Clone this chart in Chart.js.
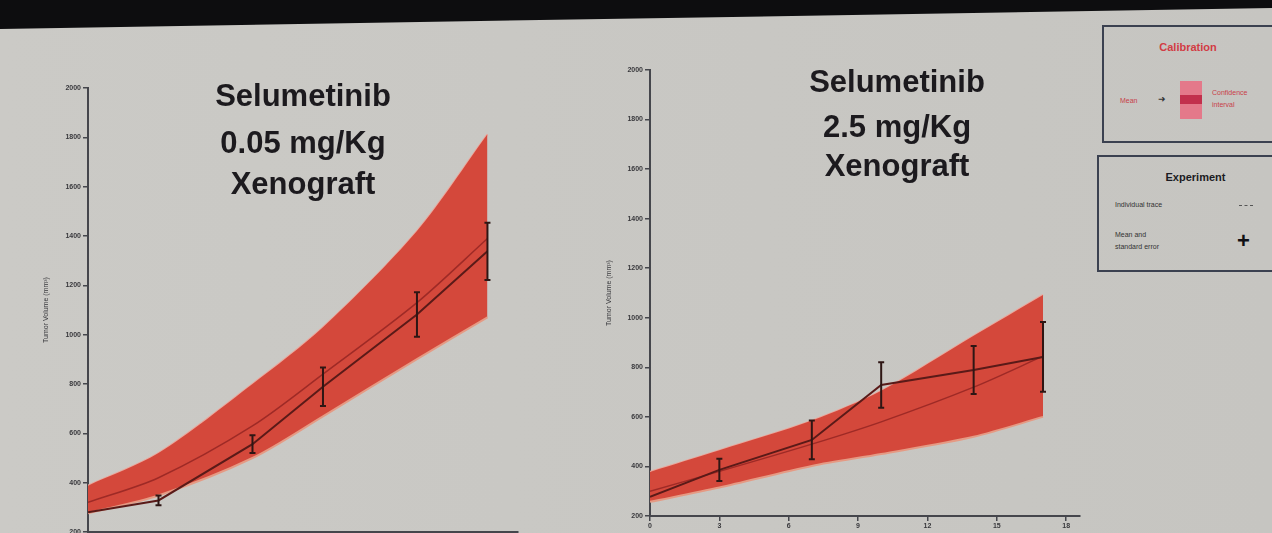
<!DOCTYPE html>
<html>
<head>
<meta charset="utf-8">
<script src="https://cdn.jsdelivr.net/npm/chart.js@4.4.1/dist/chart.umd.min.js"></script>
<style>
  html, body { margin: 0; padding: 0; }
  body { width: 1272px; height: 533px; overflow: hidden; position: relative;
         background: linear-gradient(90deg, #cbcac6 0%, #c8c7c3 60%, #c6c5c1 100%);
         font-family: "Liberation Sans", Arial, sans-serif; }
  .topband { position: absolute; left: 0; top: 0; width: 1272px; height: 32px; background: #0d0d0f;
             clip-path: polygon(0 0, 100% 0, 100% 8px, 0 29px); }
  .chartbox { position: absolute; }
  .title { position: absolute; text-align: center; font-weight: bold; font-size: 31px; color: #1c1a1e;
           line-height: 1; width: 300px; }
  .title div { position: absolute; left: 0; width: 100%; }
  .legend { position: absolute; border: 2.5px solid #3b4150; box-sizing: border-box; }
  .legend .head { position: absolute; width: 100%; text-align: center; font-weight: bold; font-size: 11px; }
  .tiny { position: absolute; font-size: 7px; white-space: nowrap; }
</style>
</head>
<body>
<div class="topband"></div>

<div class="chartbox" style="left:30px; top:70px; width:500px; height:495px;"><canvas id="lowDoseChart"></canvas></div>
<div class="chartbox" style="left:590px; top:50px; width:500px; height:500px;"><canvas id="highDoseChart"></canvas></div>

<div class="title" style="left:153px; top:80px;">
  <div style="top:0;">Selumetinib</div>
  <div style="top:47px;">0.05 mg/Kg</div>
  <div style="top:88px;">Xenograft</div>
</div>
<div class="title" style="left:747px; top:66px;">
  <div style="top:0;">Selumetinib</div>
  <div style="top:45px;">2.5 mg/Kg</div>
  <div style="top:84px;">Xenograft</div>
</div>

<div class="legend" style="left:1102px; top:25px; width:180px; height:118px;">
  <div class="head" style="top:14px; left:-4px; color:#d23c44;">Calibration</div>
  <div class="tiny" style="left:16px; top:70px; color:#c8404a;">Mean</div>
  <div class="tiny" style="left:54px; top:67px; color:#333; font-size:9px;">&#10140;</div>
  <div style="position:absolute; left:76px; top:54px; width:22px; height:38px; background:#e4798a;"></div>
  <div style="position:absolute; left:76px; top:68px; width:22px; height:9px; background:#c2304c;"></div>
  <div class="tiny" style="left:108px; top:62px; color:#c8404a;">Confidence</div>
  <div class="tiny" style="left:108px; top:74px; color:#c8404a;">interval</div>
</div>
<div class="legend" style="left:1097px; top:155px; width:185px; height:117px;">
  <div class="head" style="top:14px; left:6px; color:#1b1b22;">Experiment</div>
  <div class="tiny" style="left:16px; top:44px; color:#333;">Individual trace</div>
  <div style="position:absolute; left:140px; top:48px; width:14px; border-top:1px dashed #555;"></div>
  <div class="tiny" style="left:16px; top:74px; color:#333;">Mean and</div>
  <div class="tiny" style="left:16px; top:86px; color:#333;">standard error</div>
  <div style="position:absolute; left:138px; top:73px; font-size:22px; font-weight:bold; color:#101014; line-height:1;">+</div>
</div>

<script>
// measurement days and axis ticks
const days = [0, 3, 7, 10, 14, 17];
const xTicks = [0, 3, 6, 9, 12, 15, 18];
const yTicks = [200, 400, 600, 800, 1000, 1200, 1400, 1600, 1800, 2000];

// 0.05 mg/Kg
const lowMean = [280, 328, 556, 789, 1082, 1338];
const lowErr = [0, 20, 36, 78, 90, 116];
const lowUpper = [388, 520, 800, 1030, 1420, 1812];
const lowLower = [276, 348, 500, 669, 901, 1070];
const lowCalib = [320, 420, 630, 840, 1130, 1390];

// 2.5 mg/Kg
const highMean = [277, 386, 507, 729, 789, 842];
const highErr = [0, 45, 78, 92, 97, 141];
const highUpper = [378, 465, 585, 705, 927, 1092];
const highLower = [257, 315, 402, 450, 520, 600];
const highCalib = [300, 380, 490, 580, 720, 845];

const toPoints = arr => days.map((d, i) => ({ x: d, y: arr[i] }));

// vertical error bars for datasets that carry an `errors` array
const errorBars = {
  id: 'errorBars',
  afterDatasetsDraw(chart) {
    const { ctx, scales: { y } } = chart;
    ctx.save();
    ctx.strokeStyle = '#2e1614';
    ctx.lineWidth = 2;
    chart.data.datasets.forEach((ds, i) => {
      if (!ds.errors) return;
      chart.getDatasetMeta(i).data.forEach((pt, j) => {
        const e = ds.errors[j];
        if (!e) return;
        const top = y.getPixelForValue(ds.data[j].y + e);
        const bot = y.getPixelForValue(ds.data[j].y - e);
        ctx.beginPath();
        ctx.moveTo(pt.x, top); ctx.lineTo(pt.x, bot);
        ctx.moveTo(pt.x - 3, top); ctx.lineTo(pt.x + 3, top);
        ctx.moveTo(pt.x - 3, bot); ctx.lineTo(pt.x + 3, bot);
        ctx.stroke();
      });
    });
    ctx.restore();
  }
};

function buildChart(canvasId, upper, lower, calib, mean, err, opts) {
  const ctx = document.getElementById(canvasId).getContext('2d');
  return new Chart(ctx, {
    type: 'line',
    data: {
      datasets: [
        { data: toPoints(upper), order: 3, borderColor: '#eaa79c', borderWidth: 2, pointRadius: 0, tension: 0.3, fill: false },
        { data: toPoints(lower), order: 2, borderColor: '#e59a84', borderWidth: 2, pointRadius: 0, tension: 0.3,
          fill: '-1', backgroundColor: '#d4483b' },
        { data: toPoints(calib), order: 1, borderColor: '#9e2a26', borderWidth: 1.5, pointRadius: 0, tension: 0.3, fill: false },
        { data: toPoints(mean), order: 0, errors: err, borderColor: '#5a1a18', borderWidth: 2, pointRadius: 0, tension: 0, fill: false }
      ]
    },
    options: {
      responsive: true,
      maintainAspectRatio: false,
      animation: false,
      layout: { padding: opts.padding },
      plugins: { legend: { display: false }, tooltip: { enabled: false } },
      scales: {
        x: {
          type: 'linear',
          min: 0,
          max: opts.xMax,
          afterBuildTicks: s => { s.ticks = xTicks.map(v => ({ value: v })); },
          afterFit: s => { s.height = opts.xHeight; },
          border: { color: '#45464c', width: 2 },
          grid: { drawOnChartArea: false, color: '#45464c', tickLength: 5, lineWidth: 1.5 },
          ticks: { color: '#38383c', font: { size: 7, weight: 'bold' }, padding: 1, maxRotation: 0,
                   callback: v => String(v) },
          title: { display: true, text: 'Time (Days)', color: '#38383c', font: { size: 8, weight: 'bold' }, padding: { top: 1, bottom: 0 } }
        },
        y: {
          min: 200,
          max: 2000,
          afterBuildTicks: s => { s.ticks = yTicks.map(v => ({ value: v })); },
          afterFit: s => { s.width = opts.yWidth; },
          border: { color: '#45464c', width: 2 },
          grid: { drawOnChartArea: false, color: '#45464c', tickLength: 5, lineWidth: 1.5 },
          ticks: { color: '#38383c', font: { size: 7, weight: 'bold' }, padding: 2, callback: v => String(v) },
          title: { display: true, text: 'Tumor Volume (mm³)', color: '#38383c', font: { size: 7 }, padding: { top: opts.yTitlePad } }
        }
      }
    },
    plugins: [errorBars]
  });
}

document.addEventListener("DOMContentLoaded", function() {
  buildChart('lowDoseChart', lowUpper, lowLower, lowCalib, lowMean, lowErr,
    { padding: { top: 18, right: 12, left: 0, bottom: 0 }, xMax: 18.3, xHeight: 33, yWidth: 58, yTitlePad: 12 });
  buildChart('highDoseChart', highUpper, highLower, highCalib, highMean, highErr,
    { padding: { top: 20, right: 10, left: 0, bottom: 0 }, xMax: 18.6, xHeight: 34, yWidth: 60, yTitlePad: 15 });
});
</script>
</body>
</html>
